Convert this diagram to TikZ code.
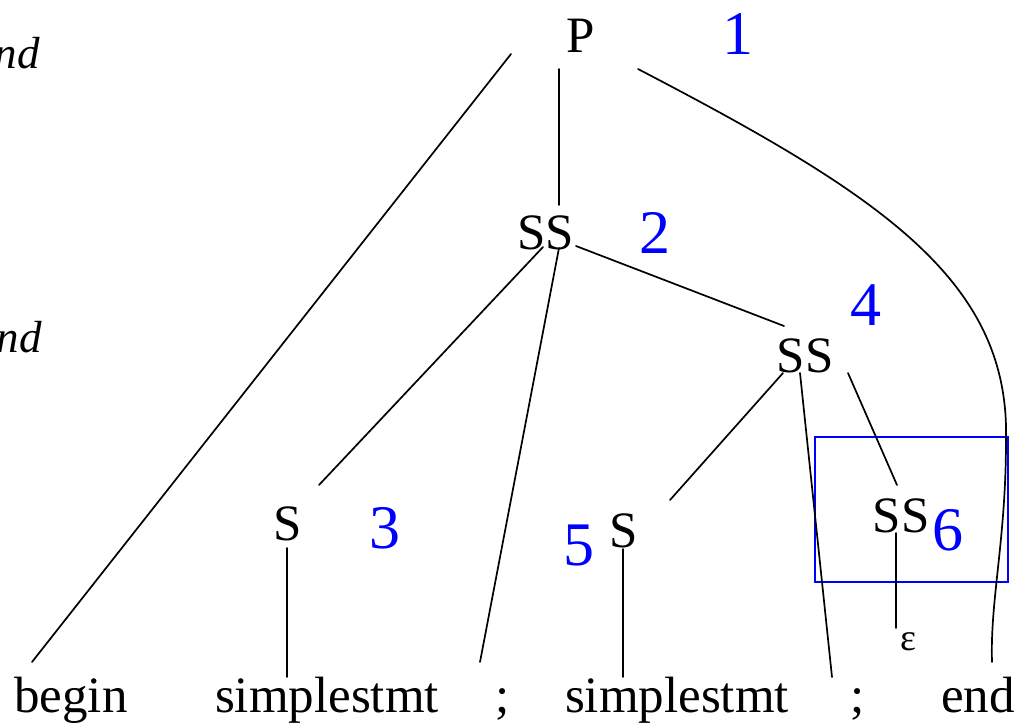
\documentclass[tikz,border=0pt]{standalone}
\usepackage{fontspec}
\setmainfont{Liberation Serif}
\begin{document}
\begin{tikzpicture}[x=1pt,y=-1pt,
  lab/.style={anchor=base, inner sep=0pt, font=\fontsize{51}{53}\selectfont},
  num/.style={anchor=base, inner sep=0pt, text={rgb,255:red,0;green,0;blue,255}, font=\fontsize{62}{64}\selectfont},
  edge/.style={line width=1.7pt, line cap=round},
  boxst/.style={draw={rgb,255:red,0;green,0;blue,255}, line width=1.8pt}]
\useasboundingbox (0,0) rectangle (1015,724);
% left cut-off italic text
\node[anchor=base east, inner sep=0pt, font=\fontsize{45}{47}\selectfont\itshape] (endA) at (40,68) {end};
\node[anchor=base east, inner sep=0pt, font=\fontsize{45}{47}\selectfont\itshape] (endB) at (42,352) {end};
% tree nodes
\node[lab] (P) at (581,52) {P};
\node[lab] (SSa) at (546,249) {SS};
\node[lab] (SSb) at (805,372) {SS};
\node[lab] (Sa) at (288,540) {S};
\node[lab] (Sb) at (624,547) {S};
\node[lab] (SSc) at (901,532) {SS};
\node[anchor=base, inner sep=0pt, font=\fontsize{38}{40}\selectfont] (eps) at (908,650) {ε};
% leaves
\node[lab] (tbegin) at (71,712) {begin};
\node[lab] (tsa) at (327,712) {simplestmt};
\node[lab] (semia) at (503,712) {;};
\node[lab] (tsb) at (677,712) {simplestmt};
\node[lab] (semib) at (858,712) {;};
\node[lab] (tend) at (978,712) {end};
% blue numbers
\node[num] (n1) at (738,54) {1};
\node[num] (n2) at (655,253) {2};
\node[num] (n3) at (385,548) {3};
\node[num] (n4) at (866,325) {4};
\node[num] (n5) at (579,565) {5};
\node[num] (n6) at (948,550) {6};
% blue box
\draw[boxst] (815,437) rectangle (1008,582);
% connectors
\draw[edge] ([shift={(-70,2)}]P.base) -- ([shift={(-39,-50)}]tbegin.base);
\draw[edge] ([shift={(-22,17)}]P.base) -- ([shift={(13,-44)}]SSa.base);
\draw[edge] ([shift={(57,17)}]P.base) .. controls (880,195) and (1010,280) .. (1006,440)
   .. controls (1006,540) and (990,600) .. ([shift={(14,-50)}]tend.base);
\draw[edge] ([shift={(-3,-2)}]SSa.base) -- ([shift={(31,-55)}]Sa.base);
\draw[edge] ([shift={(13,-1)}]SSa.base) -- ([shift={(-23,-50)}]semia.base);
\draw[edge] ([shift={(30,-3)}]SSa.base) -- ([shift={(-21,-46)}]SSb.base);
\draw[edge] ([shift={(-22,1)}]SSb.base) -- ([shift={(46,-47)}]Sb.base);
\draw[edge] ([shift={(-5,1)}]SSb.base) -- ([shift={(-26,-35)}]semib.base);
\draw[edge] ([shift={(43,1)}]SSb.base) -- ([shift={(-4,-47)}]SSc.base);
\draw[edge] ([shift={(-5,1)}]SSc.base) -- ([shift={(-12,-22)}]eps.base);
\draw[edge] ([shift={(-1,8)}]Sa.base) -- ([shift={(-40,-35)}]tsa.base);
\draw[edge] ([shift={(-1,2)}]Sb.base) -- ([shift={(-54,-35)}]tsb.base);
\end{tikzpicture}
\end{document}
